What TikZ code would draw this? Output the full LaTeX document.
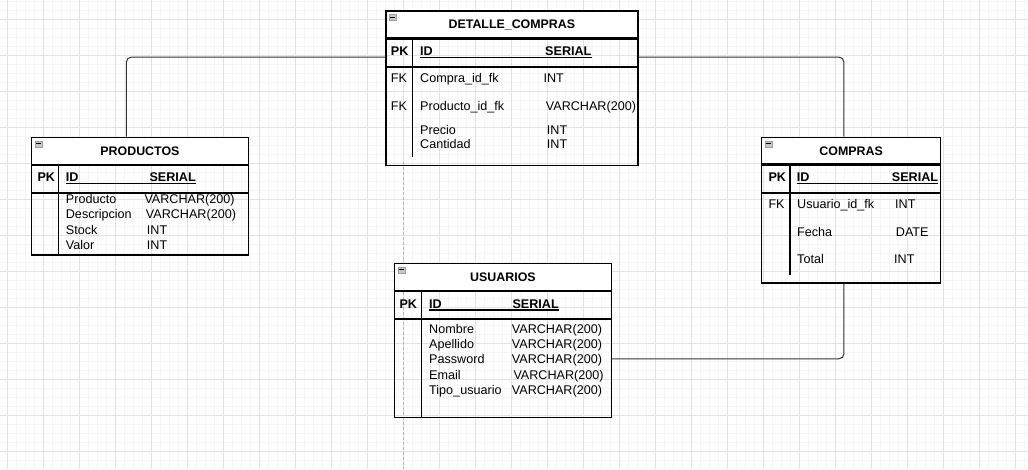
\documentclass[tikz,border=0pt]{standalone}
\usepackage{fontspec}
\setmainfont{Liberation Sans}
\definecolor{gridmajor}{HTML}{E2E2E2}
\definecolor{gridminor}{HTML}{F5F5F5}
\definecolor{pagebreak}{HTML}{B5B5B5}
\begin{document}
\begin{tikzpicture}[x=1pt, y=-1pt,
  every node/.style={font=\fontsize{12.6pt}{14pt}\selectfont, inner sep=0pt},
  head/.style={draw, line width=1.2pt, fill=white, anchor=north west,
    font=\fontsize{12.4pt}{14pt}\selectfont\bfseries, text height=8.8pt, text depth=0pt},
  row/.style={draw, line width=1.2pt, anchor=north},
  fld/.style={anchor=base west},
  key/.style={fld, font=\fontsize{12.6pt}{14pt}\selectfont\bfseries},
  uline/.style={line width=1.2pt},
  conn/.style={draw=black!80, line width=1pt, rounded corners=5pt}
  ]
  \useasboundingbox (0,0) rectangle (1028,469);
  \fill[white] (0,0) rectangle (1028,469);
  % grid
  \foreach \gx in {7.3,16.3,...,1028} \draw[gridminor, line width=0.8pt] (\gx,0) -- (\gx,469);
  \foreach \gy in {1.3,10.3,...,469} \draw[gridminor, line width=0.8pt] (0,\gy) -- (1028,\gy);
  \foreach \gx in {7.3,43.3,...,1028} \draw[gridmajor, line width=0.8pt] (\gx,0) -- (\gx,469);
  \foreach \gy in {19.3,55.3,...,469} \draw[gridmajor, line width=0.8pt] (0,\gy) -- (1028,\gy);
  \draw[pagebreak, dash pattern=on 3pt off 2pt] (403.3,162.3) -- (403.3,469);

  % DETALLE_COMPRAS
  \node[head, minimum width=252pt, minimum height=27pt] (detHead) at (385.3,10.3) {DETALLE\_COMPRAS};
  \node[row, minimum width=252pt, minimum height=27pt] (detPk) at (detHead.south) {};
  \node[row, minimum width=252pt, minimum height=98pt] (detBody) at (detPk.south) {};
  \draw[line width=1.2pt] ([xshift=27pt]detPk.north west) -- ([xshift=27pt, yshift=9pt]detBody.south west);
  \node[key] (detPkTxt) at (390.7,55.7) {PK};
  \node[key] (detId) at (420,55.7) {ID};
  \node[key] (detSerial) at (545,55.7) {SERIAL};
  \draw[uline] ([yshift=-2pt]detId.base west) -- ([yshift=-2pt]detSerial.base east);
  \node[fld] (detFk1) at (390.7,82.3) {FK};
  \node[fld] (detCompra) at (420,82.3) {Compra\_id\_fk};
  \node[fld] (detCompraT) at (543.3,82.3) {INT};
  \node[fld] (detFk2) at (390.7,110) {FK};
  \node[fld] (detProd) at (420,110) {Producto\_id\_fk};
  \node[fld] (detProdT) at (545.7,110) {VARCHAR(200)};
  \node[fld] (detPrecio) at (420,134) {Precio};
  \node[fld] (detPrecioT) at (546.7,134) {INT};
  \node[fld] (detCant) at (420,148.3) {Cantidad};
  \node[fld] (detCantT) at (546.7,148.3) {INT};

  % PRODUCTOS
  \node[head, minimum width=216.7pt, minimum height=27.3pt] (prodHead) at (31,136.7) {PRODUCTOS};
  \node[row, minimum width=216.7pt, minimum height=26.7pt] (prodPk) at (prodHead.south) {};
  \node[row, minimum width=216.7pt, minimum height=61.3pt] (prodBody) at (prodPk.south) {};
  \draw[line width=1.2pt] ([xshift=27.3pt]prodPk.north west) -- ([xshift=27.3pt]prodBody.south west);
  \node[key] (prodPkTxt) at (37.3,181.7) {PK};
  \node[key] (prodId) at (65.7,181.7) {ID};
  \node[key] (prodSerial) at (149.3,181.7) {SERIAL};
  \draw[uline] ([yshift=-2pt]prodId.base west) -- ([yshift=-2pt]prodSerial.base east);
  \node[fld] (prodNom) at (65.7,203.3) {Producto};
  \node[fld] (prodNomT) at (144.3,203.3) {VARCHAR(200)};
  \node[fld] (prodDesc) at (65.7,218.3) {Descripcion};
  \node[fld] (prodDescT) at (145.7,218.3) {VARCHAR(200)};
  \node[fld] (prodStock) at (65.7,234) {Stock};
  \node[fld] (prodStockT) at (146.7,234) {INT};
  \node[fld] (prodValor) at (65.7,249.3) {Valor};
  \node[fld] (prodValorT) at (146.7,249.3) {INT};

  % COMPRAS
  \node[head, minimum width=179pt, minimum height=26.6pt] (compHead) at (761,136.7) {COMPRAS};
  \node[row, minimum width=179pt, minimum height=27.4pt] (compPk) at (compHead.south) {};
  \node[row, minimum width=179pt, minimum height=89.3pt] (compBody) at (compPk.south) {};
  \draw[line width=1.2pt] ([xshift=29pt]compPk.north west) -- ([xshift=29pt, yshift=8.3pt]compBody.south west);
  \node[key] (compPkTxt) at (768.3,181.7) {PK};
  \node[key] (compId) at (796.7,181.7) {ID};
  \node[key] (compSerial) at (891.7,181.7) {SERIAL};
  \draw[uline] ([yshift=-2pt]compId.base west) -- ([yshift=-2pt]compSerial.base east);
  \node[fld] (compFk) at (768.3,208.3) {FK};
  \node[fld] (compUsr) at (797,208.3) {Usuario\_id\_fk};
  \node[fld] (compUsrT) at (895,208.3) {INT};
  \node[fld] (compFecha) at (797,236) {Fecha};
  \node[fld] (compFechaT) at (895.7,236) {DATE};
  \node[fld] (compTotal) at (797,263.3) {Total};
  \node[fld] (compTotalT) at (894,263.3) {INT};

  % USUARIOS
  \node[head, minimum width=216.7pt, minimum height=27pt] (usrHead) at (394,262.7) {USUARIOS};
  \node[row, minimum width=216.7pt, minimum height=26.6pt] (usrPk) at (usrHead.south) {};
  \node[row, minimum width=216.7pt, minimum height=98.4pt] (usrBody) at (usrPk.south) {};
  \draw[line width=1.2pt] ([xshift=27.7pt]usrPk.north west) -- ([xshift=27.7pt]usrBody.south west);
  \node[key] (usrPkTxt) at (399.3,308) {PK};
  \node[key] (usrId) at (429,308) {ID};
  \node[key] (usrSerial) at (512.3,308) {SERIAL};
  \draw[uline] ([yshift=-2pt]usrId.base west) -- ([yshift=-2pt]usrSerial.base east);
  \node[fld] (usrNom) at (429,333.3) {Nombre};
  \node[fld] (usrNomT) at (511.7,333.3) {VARCHAR(200)};
  \node[fld] (usrApe) at (429,348.7) {Apellido};
  \node[fld] (usrApeT) at (511.7,348.7) {VARCHAR(200)};
  \node[fld] (usrPass) at (429,363.3) {Password};
  \node[fld] (usrPassT) at (511.7,363.3) {VARCHAR(200)};
  \node[fld] (usrMail) at (429,379.7) {Email};
  \node[fld] (usrMailT) at (513.3,379.7) {VARCHAR(200)};
  \node[fld] (usrTipo) at (429,394) {Tipo\_usuario};
  \node[fld] (usrTipoT) at (511.7,394) {VARCHAR(200)};

  % collapse icons
  \foreach \b in {detHead,prodHead,compHead,usrHead} {
    \fill[gray!45, draw=gray!75, line width=0.4pt] ([xshift=4pt,yshift=-4pt]\b.north west) rectangle ++(7,6);
    \draw[line width=1pt] ([xshift=5pt,yshift=-7pt]\b.north west) -- ++(5,0);
  }

  % relations
  \draw[conn] ([xshift=-13.6pt]prodHead.north) |- ([yshift=-4.5pt]detPk.west);
  \draw[conn] ([yshift=-4.5pt]detPk.east) -| ([xshift=-7.2pt]compHead.north);
  \draw[conn] (usrPass.center -| usrBody.east) -| ([xshift=-7.2pt]compBody.south);
\end{tikzpicture}
\end{document}
